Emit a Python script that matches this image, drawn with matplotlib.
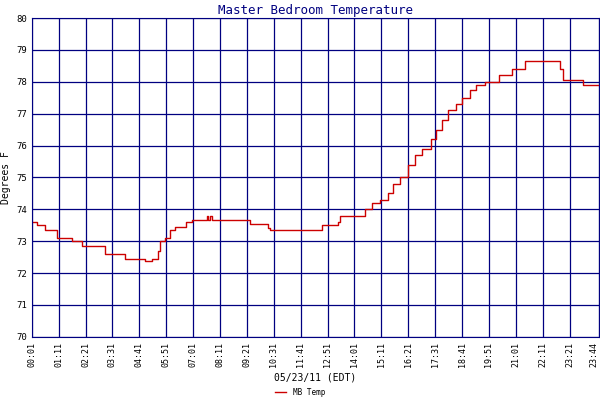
import matplotlib
matplotlib.use("Agg")
import matplotlib.pyplot as plt

# minutes since 00:01 where the reading changes, and the new value
minutes = [0, 13, 34, 65, 104, 130, 190, 242, 295, 313, 328, 334, 347, 360, 373,
           401, 417, 456, 459, 464, 469, 474, 568, 615, 620, 756, 798, 803, 834,
           868, 886, 907, 928, 941, 959, 980, 998, 1017, 1038, 1053, 1069, 1084,
           1103, 1121, 1142, 1157, 1181, 1215, 1251, 1285, 1376, 1384, 1397, 1434, 1476]
temps = [73.6, 73.5, 73.35, 73.1, 73.0, 72.85, 72.6, 72.45, 72.38, 72.45, 72.7, 73.0,
         73.1, 73.35, 73.45, 73.6, 73.65, 73.8, 73.65, 73.8, 73.65, 73.65, 73.55, 73.4,
         73.35, 73.5, 73.6, 73.8, 73.8, 74.0, 74.2, 74.3, 74.5, 74.8, 75.0, 75.4, 75.7,
         75.9, 76.2, 76.5, 76.8, 77.1, 77.3, 77.5, 77.75, 77.9, 78.0, 78.2, 78.4, 78.65,
         78.4, 78.05, 78.05, 77.9, 77.9]
tick_labels = ["00:01", "01:11", "02:21", "03:31", "04:41", "05:51", "07:01", "08:11",
               "09:21", "10:31", "11:41", "12:51", "14:01", "15:11", "16:21", "17:31",
               "18:41", "19:51", "21:01", "22:11", "23:21", "23:44"]

navy = "#000080"
plt.rcParams["font.family"] = "DejaVu Sans Mono"
fig = plt.figure(figsize=(6, 4), dpi=100)
ax = fig.add_axes([0.053, 0.158, 0.945, 0.797])
ax.step(minutes, temps, where="post", color="#cc0000", lw=1, label="MB Temp")
ax.set_xlim(0, 1476)
ax.set_ylim(70, 80)
ticks = [70 * k for k in range(21)] + [1476]
ax.set_xticks(ticks)
ax.set_xticklabels(tick_labels, rotation=90, fontsize=6)
ax.get_xticklabels()[-1].set_horizontalalignment("right")
ax.set_yticks(range(70, 81))
ax.tick_params(axis="y", labelsize=6.5, length=0)
ax.tick_params(axis="x", length=0)
ax.grid(True, color=navy, lw=0.9)
for s in ax.spines.values():
    s.set_color(navy)
ax.set_title("Master Bedroom Temperature", color=navy, fontsize=9, pad=3)
ax.set_ylabel("Degrees F", fontsize=7)
ax.set_xlabel("05/23/11 (EDT)", fontsize=7, labelpad=4)
fig.legend(loc="lower center", bbox_to_anchor=(0.5, -0.01), frameon=False, fontsize=5.5,
           handlelength=1.5)
fig.savefig("out.png", dpi=100)
